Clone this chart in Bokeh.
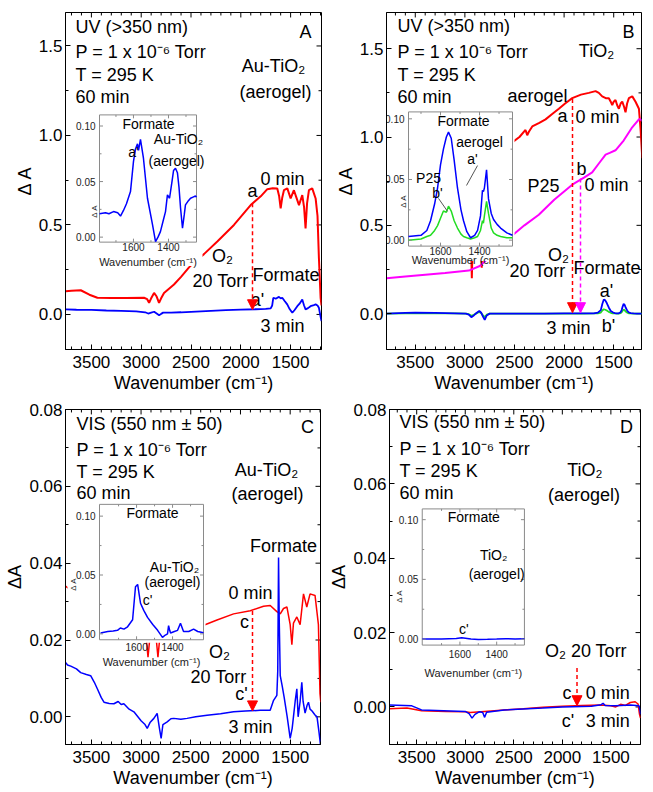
import math
from bokeh.plotting import figure
from bokeh.layouts import column, row
from bokeh.models import (Range1d, SingleIntervalTicker,
                          PrintfTickFormatter, Arrow, NormalHead)
from bokeh.core.properties import value
from bokeh.embed import file_html
from bokeh.resources import INLINE

FONT = "Liberation Sans"
RED = "#ff0000"
BLUE = "#0000ff"
MAG = "#ff00ff"
GRN = "#22dd22"
GRAY = "#8a8a8a"

# ---------------- DATA ----------------
# Panel A (UV, Au-TiO2 aerogel)
a_red_wn = [3757, 3700, 3607, 3520, 3440, 3300, 3150, 2972, 2940, 2921, 2900, 2871, 2845, 2821, 2800, 2771,
            2671, 2600, 2520, 2450, 2370, 2236, 2069, 1901, 1800, 1734, 1680, 1634, 1615, 1600, 1585, 1567,
            1533, 1500, 1467, 1440, 1416, 1383, 1365, 1350, 1335, 1316, 1283, 1249, 1230, 1216, 1199, 1190]
a_red_dA = [0.13, 0.132, 0.135, 0.11, 0.093, 0.092, 0.092, 0.093, 0.085, 0.065, 0.09, 0.12, 0.10, 0.065, 0.09, 0.12,
            0.167, 0.21, 0.263, 0.30, 0.337, 0.407, 0.50, 0.611, 0.66, 0.70, 0.705, 0.704, 0.66, 0.593, 0.65, 0.694,
            0.704, 0.648, 0.694, 0.65, 0.611, 0.667, 0.60, 0.48, 0.62, 0.694, 0.704, 0.648, 0.55, 0.315, 0.093, 0.05]
a_blu_wn = [3757, 3650, 3500, 3350, 3200, 3050, 2960, 2930, 2900, 2870, 2845, 2820, 2800, 2780, 2700, 2600,
            2450, 2300, 2150, 2000, 1850, 1750, 1700, 1685, 1674, 1650, 1617, 1600, 1584, 1560, 1534, 1510,
            1483, 1460, 1433, 1410, 1383, 1365, 1350, 1325, 1300, 1275, 1249, 1230, 1216, 1200, 1190]
a_blu_dA = [0.028, 0.026, 0.025, 0.022, 0.02, 0.017, 0.012, 0.005, 0.01, 0.015, 0.005, -0.005, 0.003, 0.01, 0.01, 0.012,
            0.016, 0.02, 0.024, 0.027, 0.029, 0.031, 0.034, 0.05, 0.093, 0.088, 0.098, 0.09, 0.093, 0.075, 0.056, 0.03,
            0.009, 0.025, 0.046, 0.06, 0.083, 0.05, 0.028, 0.035, 0.046, 0.05, 0.056, 0.05, 0.037, -0.01, -0.037]
# inset A
ia_wn = [1794, 1760, 1740, 1714, 1690, 1674, 1657, 1640, 1617, 1600, 1589, 1577, 1571, 1560, 1543, 1520, 1491,
         1474, 1460, 1446, 1430, 1417, 1406, 1394, 1380, 1371, 1360, 1349, 1340, 1331, 1320, 1310, 1303, 1290,
         1274, 1260, 1246, 1240]
ia_dA = [0.021, 0.022, 0.021, 0.023, 0.022, 0.019, 0.024, 0.030, 0.041, 0.068, 0.079, 0.084, 0.078, 0.088, 0.071,
         0.035, 0.011, -0.004, 0.000, 0.005, 0.015, 0.023, 0.038, 0.035, 0.050, 0.060, 0.062, 0.058, 0.045, 0.026,
         0.008, 0.020, 0.029, 0.032, 0.035, 0.036, 0.037, 0.036]

# Panel B (UV, TiO2 aerogel / P25)
b_red_wn = [3790, 3600, 3400, 3200, 3000, 2950, 2930, 2910, 2860, 2845, 2830, 2815, 2780, 2700, 2600, 2523, 2450,
            2389, 2372, 2355, 2321, 2250, 2187, 2120, 2053, 1990, 1918, 1830, 1751, 1683, 1650, 1616, 1580, 1549,
            1530, 1515, 1500, 1482, 1465, 1448, 1430, 1414, 1395, 1381, 1365, 1347, 1313, 1280, 1246, 1230, 1212]
b_red_dA = [0.55, 0.58, 0.62, 0.66, 0.70, 0.70, 0.20, 0.70, 0.72, 0.72, 0.26, 0.72, 0.74, 0.80, 0.88, 0.97, 1.00,
            1.04, 1.01, 1.03, 1.06, 1.08, 1.10, 1.13, 1.16, 1.19, 1.22, 1.24, 1.25, 1.26, 1.25, 1.23, 1.22, 1.22,
            1.20, 1.18, 1.20, 1.21, 1.18, 1.16, 1.19, 1.20, 1.17, 1.14, 1.19, 1.22, 1.23, 1.20, 1.16, 1.05, 0.88]
b_mag_wn = [3790, 3600, 3400, 3200, 2960, 2850, 2750, 2650, 2523, 2400, 2255, 2100, 1918, 1800, 1717, 1650, 1582,
            1540, 1482, 1400, 1320, 1246, 1230, 1212]
b_mag_dA = [0.20, 0.21, 0.22, 0.23, 0.244, 0.27, 0.32, 0.38, 0.443, 0.50, 0.56, 0.645, 0.73, 0.77, 0.80, 0.85, 0.90,
            0.91, 0.925, 0.98, 1.05, 1.10, 1.10, 1.09]
b_wn = [3790, 3600, 3500, 3300, 3100, 2990, 2960, 2935, 2910, 2880, 2855, 2835, 2815, 2800, 2780, 2750, 2600, 2400,
        2200, 2000, 1800, 1700, 1660, 1630, 1615, 1600, 1585, 1570, 1550, 1530, 1510, 1490, 1470, 1450, 1430, 1420,
        1410, 1400, 1390, 1380, 1365, 1350, 1330, 1300, 1270, 1240, 1212]
b_blu_dA = [0.0, 0.004, 0.006, 0.004, 0.002, 0.0, -0.005, -0.02, -0.01, 0.005, 0.015, 0.005, -0.02, -0.035, -0.01,
            0.0, 0.0, 0.0, 0.0, 0.001, 0.001, 0.002, 0.006, 0.02, 0.055, 0.08, 0.075, 0.06, 0.035, 0.015, 0.008, 0.003,
            0.002, 0.002, 0.008, 0.02, 0.04, 0.055, 0.05, 0.035, 0.018, 0.008, 0.003, 0.001, 0.0, 0.0, 0.0]
b_grn_dA = [0.0, 0.002, 0.003, 0.002, 0.001, 0.0, -0.003, -0.012, -0.006, 0.003, 0.01, 0.003, -0.012, -0.02, -0.006,
            0.0, 0.0, 0.0, 0.0, 0.0, 0.0, 0.001, 0.002, 0.006, 0.018, 0.025, 0.022, 0.018, 0.01, 0.005, 0.002, 0.001,
            0.0, 0.0, 0.003, 0.008, 0.016, 0.024, 0.02, 0.012, 0.006, 0.002, 0.001, 0.0, 0.0, 0.0, 0.0]
# inset B
ib_wn = [1764, 1700, 1670, 1651, 1630, 1615, 1600, 1585, 1570, 1559, 1545, 1530, 1513, 1495, 1482, 1465, 1446,
         1425, 1410, 1395, 1385, 1380, 1375, 1364, 1354, 1340, 1328, 1310, 1292, 1260, 1231]
ib_blu = [0.003, 0.004, 0.008, 0.016, 0.030, 0.043, 0.062, 0.075, 0.085, 0.089, 0.084, 0.066, 0.043, 0.025, 0.016,
          0.007, 0.002, 0.004, 0.008, 0.020, 0.041, 0.040, 0.043, 0.058, 0.034, 0.022, 0.017, 0.013, 0.010, 0.006,
          0.004]
ib_grn = [0.000, 0.001, 0.003, 0.004, 0.008, 0.012, 0.018, 0.024, 0.023, 0.028, 0.024, 0.016, 0.010, 0.005, 0.003,
          0.002, 0.001, 0.002, 0.003, 0.008, 0.016, 0.014, 0.020, 0.032, 0.022, 0.010, 0.006, 0.004, 0.003, 0.002,
          0.002]

# Panel C (VIS, Au-TiO2 aerogel)
c_red_wn = [3760, 3600, 3400, 3200, 3000, 2950, 2930, 2910, 2850, 2830, 2810, 2600, 2363, 2236, 2069, 1901, 1768,
            1701, 1634, 1600, 1567, 1533, 1500, 1483, 1467, 1433, 1400, 1366, 1333, 1300, 1250, 1216, 1200, 1192]
c_red_dA = [0.034, 0.031, 0.027, 0.024, 0.022, 0.021, 0.0155, 0.021, 0.021, 0.0155, 0.021, 0.022, 0.0239, 0.0252,
            0.0268, 0.0276, 0.0288, 0.029, 0.0274, 0.0268, 0.0282, 0.0286, 0.024, 0.0188, 0.0244, 0.026, 0.024,
            0.032, 0.0286, 0.032, 0.0316, 0.024, 0.006, 0.0038]
c_blu_wn = [3757, 3740, 3707, 3650, 3607, 3550, 3507, 3470, 3440, 3400, 3373, 3320, 3273, 3230, 3200, 3173, 3120,
            3072, 3000, 2960, 2938, 2910, 2871, 2838, 2815, 2798, 2780, 2737, 2700, 2671, 2600, 2537, 2450, 2336,
            2200, 2069, 1950, 1801, 1701, 1667, 1634, 1625, 1617, 1610, 1600, 1580, 1560, 1530, 1500, 1480, 1467,
            1450, 1433, 1420, 1400, 1383, 1370, 1350, 1330, 1316, 1300, 1280, 1250, 1230, 1210, 1195]
c_blu_dA = [0.0141, 0.0135, 0.0132, 0.0125, 0.0115, 0.011, 0.0107, 0.009, 0.0073, 0.005, 0.0038, 0.0035, 0.0034,
            0.004, 0.0032, 0.0034, 0.002, 0.0013, -0.001, -0.002, -0.003, -0.0015, -0.0004, 0.0009, -0.003, -0.0056,
            -0.002, -0.0013, -0.0005, -0.0004, -0.0006, -0.0004, 0.0, 0.0004, 0.0008, 0.0013, 0.0015, 0.0017, 0.0017,
            0.0043, 0.0056, 0.012, 0.0415, 0.025, 0.0107, 0.008, 0.005, 0.0, -0.0056, -0.003, 0.0, 0.004, 0.0073,
            0.0, 0.004, 0.009, 0.004, 0.001, 0.003, 0.0038, 0.002, 0.0015, 0.0005, 0.0, -0.004, -0.0073]
# inset C
ic_wn = [1800, 1760, 1730, 1706, 1690, 1670, 1650, 1622, 1606, 1594, 1585, 1578, 1560, 1539, 1510, 1483, 1456, 1440,
         1428, 1422, 1416, 1411, 1390, 1372, 1356, 1339, 1310, 1283, 1260, 1228]
ic_dA = [0.0008, 0.002, 0.0025, 0.003, 0.005, 0.004, 0.006, 0.012, 0.040, 0.042, 0.033, 0.026, 0.020, 0.014, 0.008,
         0.003, -0.003, -0.001, 0.0, 0.007, 0.003, 0.0008, 0.002, 0.003, 0.009, 0.002, 0.002, 0.004, 0.002, 0.001]

# Panel D (VIS, TiO2 aerogel)
d_red_wn = [3780, 3600, 3450, 3200, 3000, 2950, 2800, 2600, 2400, 2200, 2000, 1800, 1600, 1500, 1450, 1400, 1350,
            1300, 1250, 1220, 1205, 1195]
d_red_dA = [-0.0005, -0.0003, -0.001, -0.0012, -0.0013, -0.0015, -0.0012, -0.0008, -0.0005, -0.0001, 0.0002,
            0.0004, 0.0005, 0.0003, 0.0, 0.0007, 0.0004, 0.0012, 0.0014, 0.0008, -0.002, -0.003]
d_blu_wn = [3780, 3550, 3450, 3000, 2960, 2930, 2900, 2870, 2850, 2820, 2800, 2780, 2600, 2200, 2000, 1700, 1600,
            1580, 1560, 1450, 1300, 1210, 1200, 1195]
d_blu_dA = [0.0005, 0.0003, -0.0008, -0.0012, -0.0018, -0.003, -0.002, -0.0015, -0.0013, -0.0015, -0.0028,
            -0.0014, -0.0008, -0.0003, 0.0, 0.0002, 0.0006, 0.001, 0.0004, 0.0003, 0.0005, 0.0003, -0.001, -0.002]
# inset D
id_wn = [1805, 1700, 1620, 1590, 1570, 1540, 1500, 1450, 1400, 1350, 1300, 1249]
id_dA = [0.0, 0.0002, 0.0005, 0.0012, 0.0008, 0.0002, -0.0003, -0.0002, 0.0, 0.0004, 0.0001, 0.0003]

# tick values
X_MAJ = [1500, 2000, 2500, 3000, 3500]
X_MIN = [v for v in range(1200, 3800, 100) if v % 500]
Y_MAJ_UV = [0.0, 0.5, 1.0, 1.5]
Y_MIN_UV = [0.25, 0.75, 1.25]
Y_MAJ_VIS = [0.0, 0.02, 0.04, 0.06, 0.08]
Y_MIN_VIS = [0.01, 0.03, 0.05, 0.07]
INS_XMAJ = [1600, 1400]
INS_XMIN = [1700, 1500, 1300]
INS_YMAJ = [0.0, 0.05, 0.10]
INS_YMIN = [0.025, 0.075]
INS_XLAB = ["1600", "1400"]
INS_YLAB = ["0.00", "0.05", "0.10"]

XLABEL = "Wavenumber (cm\u207b\u00b9)"


# ---------------- HELPERS ----------------
def px2d(pan, X, Y):
    L, R, T, B = pan["frame"]
    x0, x1 = pan["xr"]
    y0, y1 = pan["yr"]
    return x0 + (X - L) / (R - L) * (x1 - x0), y0 + (B - Y) / (B - T) * (y1 - y0)


def style_axis(ax, lab_standoff, axl_standoff):
    ax.axis_line_color = "black"
    ax.major_tick_in = 5
    ax.major_tick_out = 0
    ax.minor_tick_in = 3
    ax.minor_tick_out = 0
    ax.major_tick_line_color = "black"
    ax.minor_tick_line_color = "black"
    ax.major_label_text_font = FONT
    ax.major_label_text_color = "black"
    ax.major_label_text_font_size = "17px"
    ax.major_label_standoff = lab_standoff
    ax.axis_label_text_font = FONT
    ax.axis_label_text_font_style = "normal"
    ax.axis_label_text_font_size = "18px"
    ax.axis_label_text_color = "black"
    ax.axis_label_standoff = axl_standoff


def make_panel(pan, y_step, y_fmt, ylab, ymaj, ymin, w, h, mbl, mbr, mbt, mbb):
    p = figure(width=w, height=h, x_range=Range1d(*pan["xr"]), y_range=Range1d(*pan["yr"]),
               output_backend="svg", toolbar_location=None,
               min_border_left=mbl, min_border_right=mbr, min_border_top=mbt, min_border_bottom=mbb,
               x_axis_label=XLABEL, y_axis_label=ylab)
    p.xgrid.visible = False
    p.ygrid.visible = False
    p.outline_line_color = "black"
    p.background_fill_color = "white"
    p.border_fill_color = "white"
    p.xaxis.ticker = SingleIntervalTicker(interval=500, num_minor_ticks=5)
    p.yaxis.ticker = SingleIntervalTicker(interval=y_step, num_minor_ticks=2)
    p.xaxis.formatter = PrintfTickFormatter(format="%d")
    p.yaxis.formatter = PrintfTickFormatter(format=y_fmt)
    for ax in p.xaxis:
        style_axis(ax, 6, 2)
    for ax in p.yaxis:
        style_axis(ax, 3, 1)
    # mirrored inward ticks on the top and right edges of the frame
    L, R, T, B = pan["frame"]
    x0, x1 = pan["xr"]
    y0, y1 = pan["yr"]
    dxp = (x1 - x0) / (R - L)
    dyp = (y1 - y0) / (B - T)
    sx0, sy0, sx1, sy1 = [], [], [], []
    for vals, ln in ((X_MAJ, 5), (X_MIN, 3)):
        for v in vals:
            if min(x0, x1) < v < max(x0, x1):
                sx0.append(v); sx1.append(v); sy0.append(y1); sy1.append(y1 - ln * dyp)
    for vals, ln in ((ymaj, 5), (ymin, 3)):
        for v in vals:
            if y0 < v < y1:
                sy0.append(v); sy1.append(v); sx0.append(x1); sx1.append(x1 - ln * dxp)
    p.segment(x0=sx0, y0=sy0, x1=sx1, y1=sy1, line_color="black", line_width=1)
    return p


def add_texts(p, pan, items, size="18px", align="center"):
    for t, X, Y in items:
        x, y = px2d(pan, X, Y)
        p.text(x=[x], y=[y], text=[t], text_font=value(FONT), text_font_size=size,
               text_align=align, text_baseline="middle", text_color="black")


def add_arrow(p, pan, X, Y0, Y1, color):
    x, y0 = px2d(pan, X, Y0)
    _, y1 = px2d(pan, X, Y1)
    p.add_layout(Arrow(end=NormalHead(size=10, fill_color=color, line_color=color, line_width=1),
                       x_start=x, y_start=y0, x_end=x, y_end=y1,
                       line_color=color, line_width=1.5, line_dash="4 3"))


def add_inset(p, pan, ins):
    L, R, T, B = pan["frame"]
    iL, iR, iT, iB = ins["box"]
    xi0, xi1 = ins["xr"]
    yi0, yi1 = ins["yr"]
    fx0, fx1 = (iL - L) / (R - L), (iR - L) / (R - L)
    fy0, fy1 = (B - iB) / (B - T), (B - iT) / (B - T)
    sx = (xi1 - xi0) / (fx1 - fx0)
    xs = xi0 - fx0 * sx
    sy = (yi1 - yi0) / (fy1 - fy0)
    ys = yi0 - fy0 * sy
    p.extra_x_ranges = {"ix": Range1d(xs, xs + sx)}
    p.extra_y_ranges = {"iy": Range1d(ys, ys + sy)}
    wl, wr, wt, wb = ins["white"]
    xl, yt = px2d(pan, wl, wt)
    xr_, yb = px2d(pan, wr, wb)
    p.quad(left=[xl], right=[xr_], top=[yt], bottom=[yb], fill_color="white", line_color=None)
    kw = dict(x_range_name="ix", y_range_name="iy")
    p.quad(left=[xi0], right=[xi1], bottom=[yi0], top=[yi1], fill_color="white",
           line_color=GRAY, line_width=1, **kw)
    for wn, dA, color in ins["series"]:
        p.line(wn, dA, line_color=color, line_width=1.5, **kw)
    dxp = (xi1 - xi0) / (iR - iL)
    dyp = (yi1 - yi0) / (iB - iT)
    x0s, y0s, x1s, y1s = [], [], [], []
    for vals, ln in ((INS_XMAJ, 3.5), (INS_XMIN, 2)):
        for v in vals:
            x0s += [v, v]; x1s += [v, v]
            y0s += [yi0, yi1]; y1s += [yi0 + ln * dyp, yi1 - ln * dyp]
    for vals, ln in ((INS_YMAJ, 3.5), (INS_YMIN, 2)):
        for v in vals:
            y0s += [v, v]; y1s += [v, v]
            x0s += [xi0, xi1]; x1s += [xi0 + ln * dxp, xi1 - ln * dxp]
    p.segment(x0=x0s, y0=y0s, x1=x1s, y1=y1s, line_color=GRAY, line_width=1, **kw)
    p.text(x=INS_XMAJ, y=[yi0 - ins["tdy"] * dyp] * len(INS_XMAJ), text=INS_XLAB,
           text_font=value(FONT), text_font_size="10px", text_align="center",
           text_baseline="middle", text_color="#222222", **kw)
    p.text(x=[xi0 - 4 * dxp] * len(INS_YMAJ), y=INS_YMAJ, text=INS_YLAB,
           text_font=value(FONT), text_font_size="10px", text_align="right",
           text_baseline="middle", text_color="#222222", **kw)
    p.text(x=[(xi0 + xi1) / 2], y=[yi0 - ins["ldy"] * dyp], text=[XLABEL],
           text_font=value(FONT), text_font_size="11px", text_align="center",
           text_baseline="middle", text_color="#222222", **kw)
    ax_, ay_ = px2d(pan, *ins["dA_pos"])
    p.text(x=[ax_], y=[ay_], text=["\u0394 A"], angle=math.pi / 2, text_font=value(FONT),
           text_font_size="8px", text_align="center", text_baseline="middle", text_color="#222222")
    add_texts(p, pan, ins["texts"], size="14px")
    for (X0, Y0, X1, Y1) in ins.get("leaders", []):
        a0, b0 = px2d(pan, X0, Y0)
        a1, b1 = px2d(pan, X1, Y1)
        p.segment(x0=[a0], y0=[b0], x1=[a1], y1=[b1], line_color="#555555", line_width=1)


# ---------------- PANELS ----------------
PA = {"frame": (65, 321, 13, 352), "xr": (3760, 1190), "yr": (-0.196, 1.687)}
PB = {"frame": (386, 641, 13, 352), "xr": (3790, 1220), "yr": (-0.203, 1.705)}
PC = {"frame": (65, 320, 407, 746), "xr": (3760, 1195), "yr": (-0.0072, 0.08)}
PD = {"frame": (387, 640, 407, 744), "xr": (3780, 1195), "yr": (-0.0101, 0.08)}

UV_BLOCK = ["UV (>350 nm)", "P = 1 x 10\u207b\u2076 Torr", "T = 295 K", "60 min"]
VIS_BLOCK = ["VIS (550 nm \u00b1 50)", "P = 1 x 10\u207b\u2076 Torr", "T = 295 K", "60 min"]

# --- A ---
pA = make_panel(PA, 0.5, "%.1f", "\u0394 A", Y_MAJ_UV, Y_MIN_UV, 326, 399, 65, 5, 12, 50)
pA.line(a_red_wn, a_red_dA, line_color=RED, line_width=2)
pA.line(a_blu_wn, a_blu_dA, line_color=BLUE, line_width=1.8)
add_inset(pA, PA, {
    "box": (99, 196, 116, 244), "xr": (1794, 1240), "yr": (-0.0045, 0.110),
    "white": (60, 202, 110, 268), "tdy": 5, "ldy": 20, "dA_pos": (94, 213),
    "series": [(ia_wn, ia_dA, BLUE)],
    "texts": [("Formate", 148, 125), ("Au-TiO\u2082", 178, 140), ("(aerogel)", 176, 162), ("a'", 133, 153)],
})
add_texts(pA, PA, [(t, 75, y) for t, y in zip(UV_BLOCK, [28, 53, 76, 98])], align="left")
add_texts(pA, PA, [("A", 305, 33), ("Au-TiO\u2082", 273, 67), ("(aerogel)", 275, 93), ("0 min", 282, 180),
                   ("a", 252, 193), ("O\u2082", 222, 258), ("20 Torr", 220, 283), ("a'", 257, 302),
                   ("3 min", 282, 328)])
add_texts(pA, PA, [("Formate", 319, 277)], align="right")
add_arrow(pA, PA, 252, 205, 312, RED)

# --- B ---
pB = make_panel(PB, 0.5, "%.1f", "\u0394 A", Y_MAJ_UV, Y_MIN_UV, 326, 399, 60, 11, 12, 50)
pB.line(b_red_wn, b_red_dA, line_color=RED, line_width=2)
pB.line(b_mag_wn, b_mag_dA, line_color=MAG, line_width=2)
pB.line(b_wn, b_grn_dA, line_color=GRN, line_width=1.8)
pB.line(b_wn, b_blu_dA, line_color=BLUE, line_width=1.8)
add_inset(pB, PB, {
    "box": (408, 512, 113, 248), "xr": (1764, 1231), "yr": (-0.0049, 0.1057),
    "white": (380, 514, 106, 263), "tdy": 5, "ldy": 14, "dA_pos": (403, 203),
    "series": [(ib_wn, ib_grn, GRN), (ib_wn, ib_blu, BLUE)],
    "texts": [("Formate", 463, 122), ("aerogel", 479, 143), ("a'", 472, 160), ("P25", 428, 179),
              ("b'", 437, 195)],
    "leaders": [(477, 167, 466, 187), (438, 200, 447, 213)],
})
add_texts(pB, PB, [(t, 397, y) for t, y in zip(UV_BLOCK, [27, 53, 76, 98])], align="left")
add_texts(pB, PB, [("B", 628, 33), ("TiO\u2082", 596, 52), ("aerogel", 537, 97), ("a", 562, 117),
                   ("0 min", 597, 118), ("b", 581, 170), ("P25", 543, 188), ("0 min", 606, 187),
                   ("O\u2082", 558, 257), ("20 Torr", 537, 273), ("a'", 606, 293),
                   ("3 min", 568, 330), ("b'", 608, 328)])
add_texts(pB, PB, [("Formate", 640, 270)], align="right")
add_arrow(pB, PB, 572, 100, 315, RED)
add_arrow(pB, PB, 580, 180, 315, MAG)

# --- C ---
pC = make_panel(PC, 0.02, "%.2f", "\u0394A", Y_MAJ_VIS, Y_MIN_VIS, 326, 393, 65, 6, 10, 48)
pC.line(c_red_wn, c_red_dA, line_color=RED, line_width=1.5)
pC.line(c_blu_wn, c_blu_dA, line_color=BLUE, line_width=1.5)
add_inset(pC, PC, {
    "box": (99, 203, 503, 640), "xr": (1806, 1228), "yr": (-0.005, 0.110),
    "white": (67, 205, 497, 643), "tdy": 7, "ldy": 23, "dA_pos": (73, 584),
    "series": [(ic_wn, ic_dA, BLUE)],
    "texts": [("Formate", 152, 512), ("Au-TiO\u2082", 174, 566), ("(aerogel)", 172, 582), ("c'", 147, 600)],
})
add_texts(pC, PC, [(t, 76, y) for t, y in zip(VIS_BLOCK, [422, 448, 470, 492])], align="left")
add_texts(pC, PC, [("C", 307, 425), ("Au-TiO\u2082", 266, 468), ("(aerogel)", 267, 493), ("Formate", 283, 545),
                   ("0 min", 250, 593), ("c", 244, 622), ("O\u2082", 219, 652), ("20 Torr", 218, 678),
                   ("c'", 241, 695), ("3 min", 250, 728)])
add_arrow(pC, PC, 252, 611, 712, RED)

# --- D ---
pD = make_panel(PD, 0.02, "%.2f", "\u0394A", Y_MAJ_VIS, Y_MIN_VIS, 326, 393, 61, 12, 10, 48)
pD.line(d_red_wn, d_red_dA, line_color=RED, line_width=1.5)
pD.line(d_blu_wn, d_blu_dA, line_color=BLUE, line_width=1.5)
add_inset(pD, PD, {
    "box": (420, 523, 507, 644), "xr": (1805, 1249), "yr": (-0.005, 0.109),
    "white": (392, 527, 500, 680), "tdy": 9, "ldy": 28, "dA_pos": (397, 595),
    "series": [(id_wn, id_dA, BLUE)],
    "texts": [("Formate", 472, 515), ("TiO\u2082", 492, 553), ("(aerogel)", 495, 572), ("c'", 462, 628)],
})
add_texts(pD, PD, [(t, 397, y) for t, y in zip(VIS_BLOCK, [420, 447, 469, 491])], align="left")
add_texts(pD, PD, [("D", 626, 425), ("TiO\u2082", 584, 468), ("(aerogel)", 583, 493), ("O\u2082 20 Torr", 585, 650),
                   ("c", 566, 692), ("0 min", 607, 692), ("c'", 567, 720), ("3 min", 607, 720)])
add_arrow(pD, PD, 576, 667, 705, RED)

layout = column(row(pA, pB), row(pC, pD))
open("out.html", "w").write(file_html(layout, INLINE, "FTIR spectra"))
